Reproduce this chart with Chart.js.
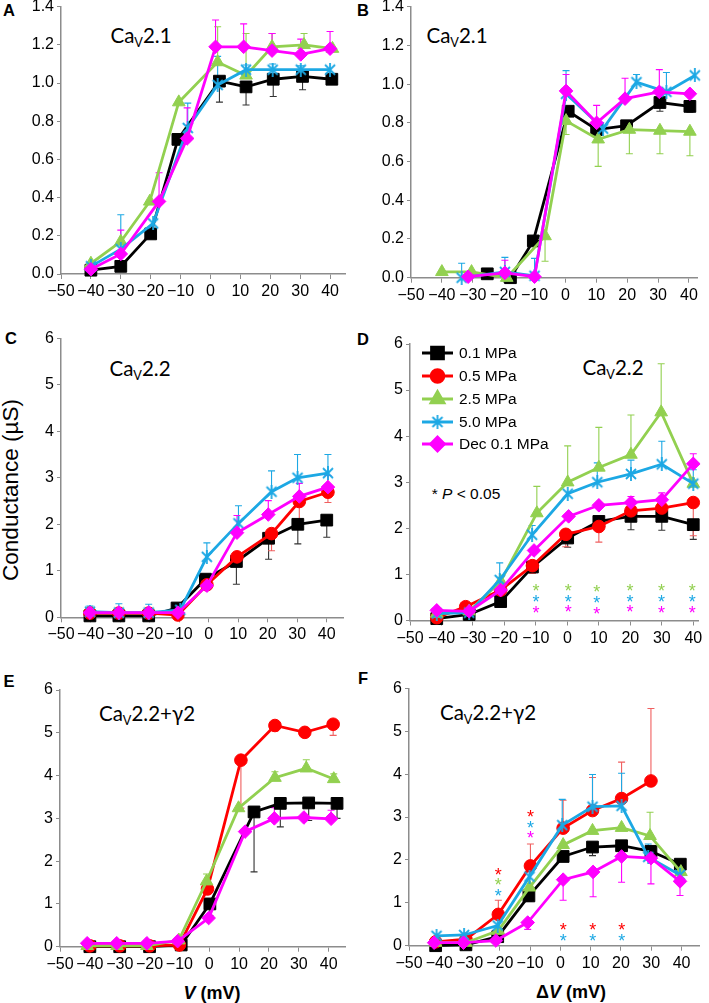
<!DOCTYPE html>
<html>
<head>
<meta charset="utf-8">
<script src="https://cdn.jsdelivr.net/npm/chart.js@4.4.1/dist/chart.umd.min.js"></script>
<style>
  html, body { margin: 0; padding: 0; background: #fff; }
  #fig { position: relative; width: 709px; height: 1003px; overflow: hidden;
         font-family: "Liberation Sans", Arial, sans-serif; color: #000; }
  #fig canvas { position: absolute; }
  .t { position: absolute; transform: translate(-50%, -50%); white-space: nowrap; line-height: 1; }
  .letter { font-weight: bold; font-size: 16.5px; }
  .title { font-family: Lato, "Open Sans", sans-serif; font-size: 20.5px; }
  .title .sb { font-size: 0.62em; position: relative; top: 0.32em; }
  .ylab { font-size: 22.5px; transform: translate(-50%, -50%) rotate(-90deg); }
  .xlab { font-weight: bold; font-size: 18px; }
  .note { font-size: 15.5px; }
</style>
</head>
<body>
<div id="fig">
  <div class="t letter" style="left:9px;top:10px">A</div>
  <div class="t letter" style="left:363px;top:10px">B</div>
  <div class="t letter" style="left:11px;top:338px">C</div>
  <div class="t letter" style="left:363px;top:339px">D</div>
  <div class="t letter" style="left:9px;top:681px">E</div>
  <div class="t letter" style="left:363px;top:678px">F</div>

  <div class="t title" style="left:141px;top:35px">Ca<span class="sb">V</span>2.1</div>
  <div class="t title" style="left:457px;top:35px">Ca<span class="sb">V</span>2.1</div>
  <div class="t title" style="left:140px;top:368px">Ca<span class="sb">V</span>2.2</div>
  <div class="t title" style="left:613px;top:367px">Ca<span class="sb">V</span>2.2</div>
  <div class="t title" style="left:147px;top:713px">Ca<span class="sb">V</span>2.2+γ2</div>
  <div class="t title" style="left:488px;top:712px">Ca<span class="sb">V</span>2.2+γ2</div>

  <div class="t ylab" style="left:11px;top:490px">Conductance (µS)</div>
  <div class="t note" style="left:466px;top:494px">* <i>P</i> &lt; 0.05</div>
  <div class="t xlab" style="left:212px;top:993px"><i>V</i> (mV)</div>
  <div class="t xlab" style="left:571px;top:992px">Δ<i>V</i> (mV)</div>
</div>

<script>
// ========== DATA: [voltage (mV), conductance, error (negative = drawn down)] ==========
const legendLabels = ["0.1 MPa", "0.5 MPa", "2.5 MPa", "5.0 MPa", "Dec 0.1 MPa"];

// A - CaV2.1
const aBlack = [[-40,0.02,0],[-30,0.04,0],[-20,0.21,0],[-10.9,0.705,0],[3,1.01,-0.11],[11.9,0.98,-0.095],[21,1.02,-0.09],[30.8,1.035,-0.07],[40.6,1.02,0]];
const aGreen = [[-40,0.055,0],[-30,0.17,0],[-20.3,0.38,0],[-10.6,0.9,0],[2.4,1.11,0.185],[11.9,1.04,0.22],[20.6,1.19,0.07],[31.3,1.2,0.06],[40.8,1.18,0]];
const aBlue = [[-40,0.04,0],[-30,0.13,0.18],[-19.2,0.265,0],[-7.6,0.765,0.13],[2.4,0.99,0.15],[11.9,1.07,0.025],[20.8,1.07,0.03],[30.2,1.07,0.02],[40,1.07,0]];
const aMagenta = [[-40,0.025,0],[-30,0.105,0.125],[-17.2,0.38,0.15],[-7.8,0.71,0.16],[1.7,1.19,0.14],[11.1,1.19,0.12],[20.6,1.17,0.09],[30.2,1.15,0.08],[40,1.18,0.09]];

// B - CaV2.1
const bBlack = [[-25.3,0.02,0],[-17.8,0,0],[-10.4,0.19,0],[0.9,0.86,0],[10.1,0.765,-0.04],[19.8,0.785,0],[30.6,0.905,-0.045],[40.3,0.885,-0.03]];
const bGreen = [[-40,0.03,0],[-30.4,0.03,0],[-19,0,0],[-6.6,0.215,-0.13],[0.2,0.81,-0.07],[10.6,0.715,-0.14],[20.7,0.765,-0.125],[30.6,0.76,-0.12],[40.3,0.755,-0.125]];
const bBlue = [[-33.6,0,0.075],[-19.6,0.03,0.075],[-10,0.01,0.09],[0.2,0.95,0.12],[12.2,0.77,0],[23,1.01,0.04],[32.7,0.96,0.1],[41.9,1.045,0]];
const bMagenta = [[-31.5,0.005,0],[-19.6,0.025,0.065],[-10,0.005,0],[0.2,0.965,0.085],[10.1,0.8,0.09],[19.3,0.925,0.105],[30.4,0.96,0.115],[40.3,0.95,0]];

// C - CaV2.2
const cBlack = [[-40.2,0.03,0],[-30.4,0.03,0],[-20.3,0.03,0],[-10.7,0.2,0],[-1.1,0.82,0],[9.4,1.2,-0.49],[20.3,1.7,-0.45],[30.2,2.0,-0.42],[40,2.09,-0.37]];
const cRed = [[-40.2,0.09,0],[-30.4,0.09,0],[-20.3,0.09,0],[-10.4,0.05,0],[-0.6,0.7,0],[9.6,1.3,0],[21.3,1.8,-0.37],[30.7,2.49,-0.4],[40.4,2.69,-0.22]];
const cBlue = [[-40.2,0.12,0.12],[-30.4,0.1,0.19],[-20.3,0.1,0.18],[-9.6,0.16,0],[-0.6,1.3,0.3],[10.1,2.02,0.38],[21.3,2.7,0.45],[30.1,3.0,0.5],[40.4,3.1,0.4]];
const cMagenta = [[-40.2,0.1,0],[-30.4,0.1,0],[-20.3,0.1,0],[-10.4,0.1,0],[-0.6,0.68,0],[9.6,1.82,0.37],[20.2,2.21,0.3],[30.7,2.6,0.28],[40.4,2.8,0.25]];

// D - CaV2.2
const dBlack = [[-41.5,0.04,0],[-31.2,0.13,0],[-21.2,0.41,0],[-11.1,1.16,0],[0.1,1.79,-0.2],[10,2.15,0],[20.2,2.26,-0.29],[30,2.26,-0.3],[40,2.08,-0.32]];
const dRed = [[-41.5,0.06,0],[-32.3,0.3,0],[-21.2,0.66,0],[-11.1,1.19,-0.17],[-0.5,1.87,-0.27],[10,2.04,-0.34],[20.2,2.38,0],[30,2.44,0],[40,2.56,-0.72]];
const dGreen = [[-41.5,0.15,0],[-31.2,0.2,0],[-21.2,0.85,0],[-9.7,2.33,0.58],[0.1,3.0,0.79],[10,3.32,0.87],[20.2,3.6,0.86],[29.8,4.52,1.05],[40,2.97,0]];
const dBlue = [[-41.5,0.15,0],[-31.2,0.17,0],[-21.5,0.88,0.37],[-11.2,1.86,0.2],[0.1,2.75,0],[9.5,3.0,0.42],[20.2,3.18,0.3],[30,3.39,0.5],[40,2.97,0.3]];
const dMagenta = [[-41.5,0.22,0],[-31.2,0.2,0],[-21.2,0.66,0],[-10.6,1.52,0],[0.4,2.26,0],[10,2.5,0],[20.2,2.56,0.13],[30,2.62,0.15],[40,3.4,0.22]];
const dStars = [[-10,0.74,"green"],[0.3,0.74,"green"],[9.3,0.72,"green"],[19.9,0.74,"green"],[29.9,0.74,"green"],[39.7,0.74,"green"],
                [-10,0.49,"blue"],[0.3,0.5,"blue"],[9.3,0.47,"blue"],[19.9,0.5,"blue"],[29.9,0.5,"blue"],[39.7,0.5,"blue"],
                [-10,0.25,"magenta"],[0.3,0.27,"magenta"],[9.3,0.23,"magenta"],[19.9,0.27,"magenta"],[29.9,0.26,"magenta"],[39.7,0.26,"magenta"]];

// E - CaV2.2+y2
const eBlack = [[-40,0,0],[-30,0,0],[-20,0,0],[-9.4,0.04,0],[0.2,1.0,-0.28],[15,3.15,-1.4],[23.8,3.35,-0.55],[33.3,3.36,-0.41],[42.8,3.35,-0.35]];
const eRed = [[-40,0.02,0],[-30,0.02,0],[-20,0.02,0],[-10,0.04,0],[-0.6,1.35,0],[10.6,4.36,-1.12],[22,5.17,-0.13],[32,5.01,-0.11],[41.5,5.2,-0.26]];
const eGreen = [[-40.9,0.02,0],[-30.9,0.02,0],[-20.9,0.02,0],[-10.2,0.15,0],[-0.9,1.53,0.17],[9.8,3.24,0],[22,3.95,0.14],[32.5,4.17,0.2],[41.7,3.92,0.12]];
const eMagenta = [[-40.9,0.08,0],[-31,0.08,0],[-20.9,0.08,0],[-10.6,0.13,0],[-0.2,0.67,0],[12,2.69,0],[21.8,3.0,0.25],[31.7,3.02,0.05],[40.8,2.99,0.2]];

// F - CaV2.2+y2, shifted voltage
const fBlack = [[-41.2,0,0],[-31.2,0.02,0],[-20.7,0.21,0],[-10.4,1.16,-0.13],[0.9,2.08,0],[10.6,2.3,-0.2],[20.2,2.33,0],[29.9,2.2,0],[39.6,1.9,0]];
const fRed = [[-41.2,0.09,0],[-31.2,0.15,0],[-20.5,0.73,0.33],[-9.9,1.86,0.51],[0.9,2.74,0.65],[10.6,3.15,0.77],[20.2,3.43,0.85],[29.9,3.84,1.69]];
const fGreen = [[-41.2,0.07,0],[-31.2,0.07,0],[-20.5,0.35,0],[-10.2,1.36,0],[0.9,2.35,0],[10.6,2.68,0],[20.2,2.75,0],[29.6,2.56,0.55],[39.8,1.72,0]];
const fBlue = [[-40.9,0.23,0],[-31.8,0.25,0],[-20.7,0.47,0],[-10.2,1.61,0.3],[0.6,2.81,0.6],[10.6,3.24,0.75],[20.2,3.26,0.76],[29,2.07,0.3],[39.5,1.65,0]];
const fMagenta = [[-41.7,0.07,0],[-32,0.07,0],[-21.3,0.12,0],[-10.8,0.54,-0.16],[0.9,1.54,-0.48],[10.8,1.72,-0.58],[20.2,2.08,-0.6],[29.9,2.04,-0.6],[39.5,1.5,-0.33]];
const fStars = [[-20.5,1.75,"red"],[-20.5,1.51,"green"],[-20.5,1.26,"blue"],
                [-9.9,3.09,"red"],[-9.9,2.85,"blue"],[-9.9,2.6,"magenta"],
                [0.9,0.46,"red"],[10.7,0.46,"red"],[20.3,0.46,"red"],
                [0.9,0.21,"blue"],[10.7,0.21,"blue"],[20.3,0.21,"blue"]];

// ======== STYLES ========
const FONT = '"Liberation Sans", Arial, sans-serif';
const AXIS = "#8c8c8c";
const COLORS = { black: "#000000", red: "#ff0000", green: "#92d050", blue: "#1ca8e4", magenta: "#ff00ff" };

function makeStarMarker(color) {
  // excel style star: an x with a vertical bar
  const c = document.createElement("canvas");
  c.width = 14; c.height = 14;
  const g = c.getContext("2d");
  g.strokeStyle = color;
  g.lineWidth = 1.8;
  g.beginPath();
  g.moveTo(2, 2); g.lineTo(12, 12);
  g.moveTo(12, 2); g.lineTo(2, 12);
  g.moveTo(7, 0); g.lineTo(7, 14);
  g.stroke();
  return c;
}

const SERIES = {
  black:   { color: COLORS.black, err: "#333", point: "rect", r: 8.3, order: 5, legend: 0 },
  red:     { color: COLORS.red, err: "#f06060", point: "circle", r: 6.3, order: 4, legend: 1 },
  green:   { color: COLORS.green, err: COLORS.green, point: "triangle", r: 7.3, order: 3, legend: 2 },
  blue:    { color: COLORS.blue, err: COLORS.blue, point: makeStarMarker(COLORS.blue), r: 6, order: 2, legend: 3 },
  magenta: { color: COLORS.magenta, err: COLORS.magenta, point: "rectRot", r: 6.8, order: 1, legend: 4 }
};

// ======== PLUGINS ========
const errorBars = {
  id: "errorBars",
  beforeDatasetsDraw(chart) {
    const { ctx, scales: { x, y } } = chart;
    chart.data.datasets.forEach((ds) => {
      ctx.save();
      ctx.strokeStyle = ds.errColor;
      ctx.lineWidth = 1.1;
      ds.data.forEach((p, i) => {
        const e = ds.errs[i];
        if (!e) return;
        const px = x.getPixelForValue(p.x);
        const y0 = y.getPixelForValue(p.y);
        const y1 = y.getPixelForValue(p.y + e);
        ctx.beginPath();
        ctx.moveTo(px, y0); ctx.lineTo(px, y1);
        ctx.moveTo(px - 3.5, y1); ctx.lineTo(px + 3.5, y1);
        ctx.stroke();
      });
      ctx.restore();
    });
  }
};

function starsPlugin(stars) {
  return {
    id: "stars",
    afterDatasetsDraw(chart) {
      const { ctx, scales: { x, y } } = chart;
      ctx.save();
      ctx.font = "18px " + FONT;
      ctx.textAlign = "center";
      ctx.textBaseline = "alphabetic";
      stars.forEach(([v, g, key]) => {
        ctx.fillStyle = COLORS[key];
        ctx.fillText("*", x.getPixelForValue(v), y.getPixelForValue(g) + 10.3);
      });
      ctx.restore();
    }
  };
}

function legendPlugin(box) {
  // rows are page coordinates, shifted into this canvas
  const rows = [353, 376, 399, 422, 444];
  return {
    id: "innerLegend",
    afterDraw(chart) {
      const ctx = chart.ctx;
      ctx.save();
      chart.data.datasets.forEach((ds) => {
        const cy = rows[ds.legendIndex] - box[1];
        const x0 = 422 - box[0], x1 = 453 - box[0];
        ctx.strokeStyle = ds.borderColor;
        ctx.lineWidth = 3;
        ctx.beginPath(); ctx.moveTo(x0, cy); ctx.lineTo(x1, cy); ctx.stroke();
        ctx.fillStyle = ds.borderColor;
        ctx.strokeStyle = ds.borderColor;
        Chart.helpers.drawPoint(ctx, { pointStyle: ds.pointStyle, radius: ds.pointRadius, rotation: 0, borderWidth: 1 }, (x0 + x1) / 2, cy);
        ctx.fillStyle = "#000";
        ctx.font = "15.5px " + FONT;
        ctx.textAlign = "left";
        ctx.textBaseline = "middle";
        ctx.fillText(legendLabels[ds.legendIndex], 459 - box[0], cy + 1);
      });
      ctx.restore();
    }
  };
}

// ======== PANEL BUILDER ========
// box: [left, top, width] of the canvas, area: [left, top, right, bottom] of the plot, page px
function panel(box, area, yMax, yStep, yDigits, xMax, series, extra) {
  const h = Math.ceil(area[3] + 32 - box[1]);
  const cv = document.createElement("canvas");
  cv.width = box[2];
  cv.height = h;
  cv.style.left = box[0] + "px";
  cv.style.top = box[1] + "px";
  document.getElementById("fig").appendChild(cv);

  const datasets = series.map(([key, pts]) => {
    const s = SERIES[key];
    return {
      data: pts.map((p) => ({ x: p[0], y: p[1] })),
      errs: pts.map((p) => p[2]),
      errColor: s.err,
      legendIndex: s.legend,
      borderColor: s.color,
      backgroundColor: s.color,
      borderWidth: 2.8,
      pointStyle: s.point,
      pointRadius: s.r,
      pointHoverRadius: s.r,
      pointBackgroundColor: s.color,
      pointBorderColor: s.color,
      pointBorderWidth: 1,
      tension: 0,
      clip: false,
      order: s.order
    };
  });

  const tickFont = { family: FONT, size: 16 };
  new Chart(cv, {
    type: "line",
    data: { datasets },
    options: {
      responsive: false,
      animation: false,
      devicePixelRatio: 1,
      events: [],
      layout: { padding: { top: area[1] - box[1], right: box[0] + box[2] - area[2], left: 0, bottom: 0 } },
      plugins: { legend: { display: false }, tooltip: { enabled: false } },
      scales: {
        x: {
          type: "linear",
          min: -50,
          max: xMax,
          afterFit: (s) => { s.height = box[1] + h - area[3]; },
          ticks: {
            stepSize: 10, includeBounds: false, autoSkip: false, maxRotation: 0, padding: 3,
            color: "#000", font: tickFont,
            callback: (v) => (v < 0 ? "\u2212" + Math.abs(v) : String(v))
          },
          grid: { drawOnChartArea: false, drawTicks: true, tickLength: 5, color: AXIS },
          border: { color: AXIS, width: 1.5 }
        },
        y: {
          min: 0,
          max: yMax,
          afterFit: (s) => { s.width = area[0] - box[0]; },
          ticks: {
            stepSize: yStep, padding: 3, color: "#000", font: tickFont,
            callback: (v) => Number(v).toFixed(yDigits)
          },
          grid: { drawOnChartArea: false, drawTicks: true, tickLength: 4, color: AXIS },
          border: { color: AXIS, width: 1.5 }
        }
      }
    },
    plugins: [errorBars].concat(extra || [])
  });
}

// ======== BUILD THE SIX PANELS ========
panel([0, -12, 355], [61, 6.7, 345, 274], 1.4, 0.2, 1, 45,
  [["black", aBlack], ["green", aGreen], ["blue", aBlue], ["magenta", aMagenta]]);

panel([355, -12, 354], [411, 6.7, 697, 277.7], 1.4, 0.2, 1, 42.6,
  [["black", bBlack], ["green", bGreen], ["blue", bBlue], ["magenta", bMagenta]]);

panel([0, 310, 355], [61, 338.3, 343, 617.3], 6, 1, 0, 45.5,
  [["black", cBlack], ["red", cRed], ["blue", cBlue], ["magenta", cMagenta]]);

const dBox = [355, 310, 354];
panel(dBox, [410, 344, 698, 620.5], 6, 1, 0, 41.5,
  [["black", dBlack], ["red", dRed], ["green", dGreen], ["blue", dBlue], ["magenta", dMagenta]],
  [starsPlugin(dStars), legendPlugin(dBox)]);

panel([0, 660, 355], [60, 690, 347, 946.7], 6, 1, 0, 45.7,
  [["black", eBlack], ["red", eRed], ["green", eGreen], ["magenta", eMagenta]]);

panel([355, 660, 354], [409, 688.3, 700, 945.7], 6, 1, 0, 46,
  [["black", fBlack], ["red", fRed], ["green", fGreen], ["blue", fBlue], ["magenta", fMagenta]],
  [starsPlugin(fStars)]);
</script>
</body>
</html>
